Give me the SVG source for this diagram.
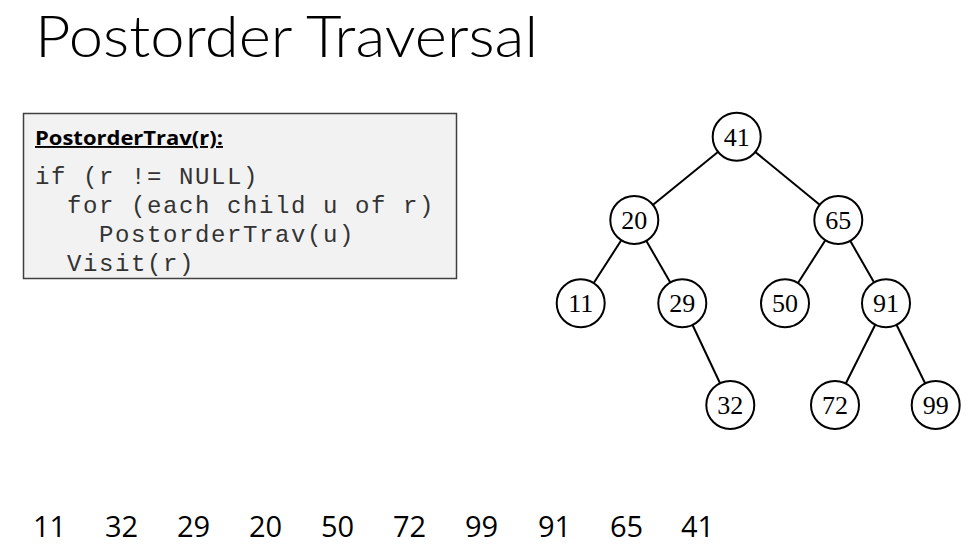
<svg xmlns="http://www.w3.org/2000/svg" width="972" height="548" viewBox="0 0 972 548">
<style>
.title{font-family:Lato,"Open Sans","Liberation Sans",sans-serif;font-weight:300;font-size:57px;fill:#000}
.hdr{font-family:"Open Sans","Liberation Sans",sans-serif;font-weight:700;font-size:19px;fill:#000;text-decoration:underline}
.code{font-family:"Liberation Mono","Courier New",monospace;font-size:24px;fill:#333;letter-spacing:1.6px;white-space:pre}
.node circle{fill:#fff;stroke:#000;stroke-width:2}
.node text{font-family:"Liberation Serif","DejaVu Serif",serif;font-size:26px;fill:#000;text-anchor:middle}
.edges line{stroke:#000;stroke-width:2}
.seq{font-family:"Open Sans","Liberation Sans",sans-serif;font-size:29px;fill:#000}
</style>
<rect width="972" height="548" fill="#fff"/>
<text class="title" x="35" y="57" textLength="503" lengthAdjust="spacingAndGlyphs">Postorder Traversal</text>
<g id="code-box">
<rect x="23.5" y="113.5" width="433" height="165" fill="#f2f2f2" stroke="#404040" stroke-width="1.5"/>
<text class="hdr" x="35" y="145" textLength="188" lengthAdjust="spacingAndGlyphs">PostorderTrav(r):</text>
<text class="code" x="35" y="184">if (r != NULL)</text>
<text class="code" x="35" y="213">  for (each child u of r)</text>
<text class="code" x="35" y="242">    PostorderTrav(u)</text>
<text class="code" x="35" y="271">  Visit(r)</text>
</g>
<g id="edges" class="edges">
<line x1="736.7" y1="136.7" x2="634.3" y2="220"/>
<line x1="736.7" y1="136.7" x2="838.3" y2="220"/>
<line x1="634.3" y1="220" x2="580.7" y2="303.3"/>
<line x1="634.3" y1="220" x2="682.3" y2="303.3"/>
<line x1="838.3" y1="220" x2="785" y2="303.3"/>
<line x1="838.3" y1="220" x2="886" y2="303.3"/>
<line x1="682.3" y1="303.3" x2="730.3" y2="405"/>
<line x1="886" y1="303.3" x2="835" y2="405"/>
<line x1="886" y1="303.3" x2="935.7" y2="405"/>
</g>
<g id="n41" class="node"><circle cx="736.7" cy="136.7" r="24"/><text x="736.7" y="145.7">41</text></g>
<g id="n20" class="node"><circle cx="634.3" cy="220" r="24"/><text x="634.3" y="229">20</text></g>
<g id="n65" class="node"><circle cx="838.3" cy="220" r="24"/><text x="838.3" y="229">65</text></g>
<g id="n11" class="node"><circle cx="580.7" cy="303.3" r="24"/><text x="580.7" y="312.3">11</text></g>
<g id="n29" class="node"><circle cx="682.3" cy="303.3" r="24"/><text x="682.3" y="312.3">29</text></g>
<g id="n50" class="node"><circle cx="785" cy="303.3" r="24"/><text x="785" y="312.3">50</text></g>
<g id="n91" class="node"><circle cx="886" cy="303.3" r="24"/><text x="886" y="312.3">91</text></g>
<g id="n32" class="node"><circle cx="730.3" cy="405" r="24"/><text x="730.3" y="414">32</text></g>
<g id="n72" class="node"><circle cx="835" cy="405" r="24"/><text x="835" y="414">72</text></g>
<g id="n99" class="node"><circle cx="935.7" cy="405" r="24"/><text x="935.7" y="414">99</text></g>
<g id="sequence">
<text class="seq" x="33" y="537">11</text>
<text class="seq" x="105" y="537">32</text>
<text class="seq" x="177" y="537">29</text>
<text class="seq" x="249" y="537">20</text>
<text class="seq" x="321" y="537">50</text>
<text class="seq" x="393" y="537">72</text>
<text class="seq" x="465" y="537">99</text>
<text class="seq" x="538" y="537">91</text>
<text class="seq" x="610" y="537">65</text>
<text class="seq" x="681" y="537">41</text>
</g>
</svg>
